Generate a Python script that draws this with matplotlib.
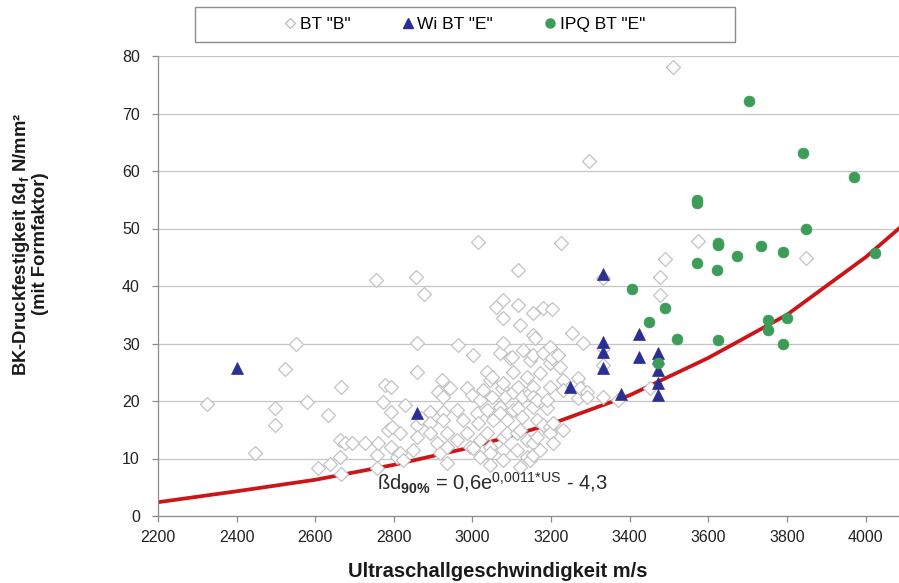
import matplotlib
matplotlib.use("Agg")
import matplotlib.pyplot as plt
from matplotlib.lines import Line2D
from matplotlib.patches import Rectangle

plt.rcParams['font.family'] = ['Liberation Sans', 'DejaVu Sans']
plt.rcParams['mathtext.fontset'] = 'custom'
plt.rcParams['mathtext.rm'] = 'Liberation Sans'
plt.rcParams['mathtext.bf'] = 'Liberation Sans:bold'
plt.rcParams['mathtext.it'] = 'Liberation Sans:italic'
plt.rcParams['mathtext.default'] = 'regular'

# ---- data: BT "B" (hollow diamonds) ----
bt_b_us = [2325, 2447, 2497, 2497, 2523, 2551, 2579, 2607, 2632, 2637, 2663, 2663, 2665, 2665,
           2675, 2693, 2726, 2754, 2757, 2757, 2759, 2772, 2777, 2785, 2792, 2792, 2795, 2792,
           2808, 2815, 2815, 2823, 2828, 2848, 2856, 2876, 2858, 2858, 2858, 2858, 2870, 2892,
           2892, 2892, 2909, 2912, 2917, 2922, 2925, 2925, 2925, 2935, 2935, 2935, 2942, 2960,
           2960, 2963, 2975, 2986, 2986, 2993, 2998, 3001, 3001, 3011, 3013, 3013, 3019, 3019,
           3019, 3026, 3036, 3036, 3036, 3044, 3044, 3044, 3044, 3049, 3049, 3052, 3061, 3070,
           3070, 3070, 3075, 3077, 3077, 3077, 3077, 3077, 3077, 3077, 3082, 3087, 3087, 3095,
           3100, 3103, 3103, 3103, 3113, 3113, 3115, 3115, 3115, 3115, 3120, 3120, 3120, 3125,
           3125, 3128, 3138, 3138, 3138, 3146, 3146, 3146, 3153, 3153, 3153, 3153, 3153, 3153,
           3153, 3153, 3159, 3164, 3164, 3164, 3171, 3171, 3179, 3179, 3179, 3189, 3189, 3197,
           3197, 3197, 3197, 3197, 3202, 3202, 3204, 3204, 3217, 3225, 3230, 3230, 3230, 3253,
           3265, 3268, 3268, 3273, 3281, 3291, 3291, 3296, 3331, 3331, 3331, 3331, 3369, 3451,
           3476, 3476, 3489, 3509, 3573, 3848, 3222]
bt_b_fc = [19.5, 11.0, 18.8, 15.8, 25.6, 29.9, 19.8, 8.3, 17.6, 9.0, 10.3, 13.2, 22.4, 7.3,
           12.7, 12.7, 12.7, 41.0, 10.6, 8.3, 12.7, 19.8, 22.8, 15.0, 22.4, 18.1, 15.5, 12.0,
           10.3, 14.4, 11.0, 9.7, 19.3, 11.5, 41.6, 38.6, 30.1, 25.0, 15.8, 13.7, 17.0, 18.1,
           16.2, 14.4, 12.7, 21.6, 11.0, 23.7, 20.7, 18.1, 16.7, 14.4, 12.0, 9.2, 22.3, 18.4,
           13.2, 29.7, 16.7, 22.3, 14.4, 12.0, 21.0, 28.0, 11.8, 17.9, 16.2, 47.6, 13.2, 10.3,
           20.2, 21.9, 25.0, 18.4, 14.4, 23.7, 12.0, 11.0, 8.9, 20.7, 24.2, 16.7, 36.3, 19.0,
           28.3, 17.9, 22.3, 37.6, 34.4, 30.1, 13.7, 11.5, 9.7, 23.1, 20.7, 16.7, 14.4, 27.5,
           27.7, 21.6, 25.0, 18.4, 14.4, 11.5, 42.8, 36.7, 22.4, 18.8, 33.2, 15.0, 8.5, 17.2,
           20.7, 28.9, 24.2, 13.2, 10.3, 21.4, 27.1, 9.7, 35.3, 31.5, 28.0, 22.4, 20.7, 19.0,
           12.7, 10.6, 31.0, 20.2, 16.7, 13.7, 24.9, 11.5, 36.2, 28.3, 15.8, 18.8, 20.2, 29.4,
           26.6, 22.4, 15.5, 14.4, 36.0, 27.5, 16.2, 12.7, 28.0, 47.5, 23.7, 15.0, 21.9, 31.8,
           23.1, 24.0, 20.5, 22.3, 30.1, 21.6, 20.7, 61.7, 41.4, 29.2, 26.3, 20.7, 20.2, 22.3,
           41.6, 38.4, 44.7, 78.1, 47.8, 44.9, 25.9]

# ---- data: Wi BT "E" (blue triangles) ----
wi_e_us = [2400, 2858, 3247, 3331, 3331, 3331, 3331, 3377, 3423, 3423, 3471, 3471, 3471, 3471, 3471]
wi_e_fc = [25.7, 17.9, 22.5, 42.1, 30.3, 28.5, 25.7, 21.2, 31.7, 27.7, 28.3, 27.5, 25.4, 23.1, 21.0]

# ---- data: IPQ BT "E" (green circles) ----
ipq_e_us = [3703, 3840, 3970, 3570, 3572, 3848, 3624, 3624, 4025, 3733, 3674, 3789, 3570, 3621,
            3405, 3489, 3448, 3520, 3624, 3751, 3751, 3799, 3789, 3471]
ipq_e_fc = [72.2, 63.1, 59.0, 55.0, 54.4, 49.9, 47.5, 47.1, 45.7, 46.9, 45.2, 45.9, 44.0, 42.8,
            39.5, 36.2, 33.7, 30.8, 30.6, 34.1, 32.3, 34.4, 29.9, 26.6]

# ---- data: 90% curve ----
curve_us = [2200, 2400, 2600, 2800, 3000, 3200, 3400, 3600, 3800, 4000, 4085]
curve_fc = [2.4, 4.3, 6.3, 8.9, 12.0, 16.0, 21.0, 27.5, 35.0, 45.0, 50.0]

x_ticks = [2200, 2400, 2600, 2800, 3000, 3200, 3400, 3600, 3800, 4000]
y_ticks = [0, 10, 20, 30, 40, 50, 60, 70, 80]

W, H = 899, 583
fig = plt.figure(figsize=(W / 100, H / 100), dpi=100)
ax = fig.add_axes([158 / W, 1 - 516 / H, 1 - 158 / W, (516 - 56) / H])

ax.set_xlim(2200, 4085)
ax.set_ylim(0, 80)
ax.set_xticks(x_ticks)
ax.set_yticks(y_ticks)
ax.yaxis.grid(True, color='#c6c6c6', linewidth=0.9)
ax.set_axisbelow(True)
for s in ['top', 'right']:
    ax.spines[s].set_visible(False)
for s in ['left', 'bottom']:
    ax.spines[s].set_color('#8c8c8c')
    ax.spines[s].set_linewidth(0.9)
ax.tick_params(axis='both', direction='out', length=4, width=0.9, color='#8c8c8c',
               labelsize=11.5, labelcolor='#222222', pad=6)
ax.tick_params(axis='y', pad=9)

ax.plot(curve_us, curve_fc, color='#cc1517', linewidth=2.7, zorder=2, solid_joinstyle='round')
ax.plot(bt_b_us, bt_b_fc, linestyle='none', marker='D', ms=7.3, mfc='white',
        mec='#c2c2c2', mew=0.9, zorder=3)
ax.plot(wi_e_us, wi_e_fc, linestyle='none', marker='^', ms=8, mfc='#2b2f93',
        mec='#2b2f93', mew=0.5, zorder=4)
ax.plot(ipq_e_us, ipq_e_fc, linestyle='none', marker='o', ms=7.8, mfc='#3c9c58',
        mec='#3c9c58', mew=0.5, zorder=5)

ax.text(2757, 4.5, r'ßd$_{\mathbf{90\%}}$ = 0,6e$^{0{,}0011{*}US}$ - 4,3',
        fontsize=14.5, color='#2a2a2a', ha='left', va='baseline', zorder=6)

fig.text(497.5 / W, 1 - 577 / H, 'Ultraschallgeschwindigkeit m/s', fontsize=14.5,
         fontweight='bold', ha='center', va='baseline', color='#1a1a1a')
fig.text(30 / W, 1 - 244 / H, 'BK-Druckfestigkeit ßd$_{\\mathbf{f}}$ N/mm²\n(mit Formfaktor)',
         fontsize=13.3, fontweight='bold', rotation=90, ha='center', va='center',
         multialignment='center', linespacing=1.05, color='#1a1a1a')

# legend
fig.patches.append(Rectangle((195 / W, 1 - 42 / H), 540 / W, 35 / H, transform=fig.transFigure,
                             fill=True, facecolor='white', edgecolor='#8c8c8c', linewidth=1.0))
handles = [
    Line2D([], [], linestyle='none', marker='D', ms=5.5, mfc='white', mec='#b8b8b8', mew=0.9),
    Line2D([], [], linestyle='none', marker='^', ms=7, mfc='#2b2f93', mec='#2b2f93'),
    Line2D([], [], linestyle='none', marker='o', ms=6.5, mfc='#3c9c58', mec='#3c9c58'),
]
labels = ['BT "B"', 'Wi BT "E"', 'IPQ BT "E"']
fig.legend(handles, labels, ncol=3, loc='center', bbox_to_anchor=(465 / W, 1 - 24.5 / H),
           frameon=False, fontsize=12.5, handlelength=0.6, handletextpad=0.25,
           columnspacing=3.0, borderpad=0)

fig.savefig('out.png', dpi=100)
